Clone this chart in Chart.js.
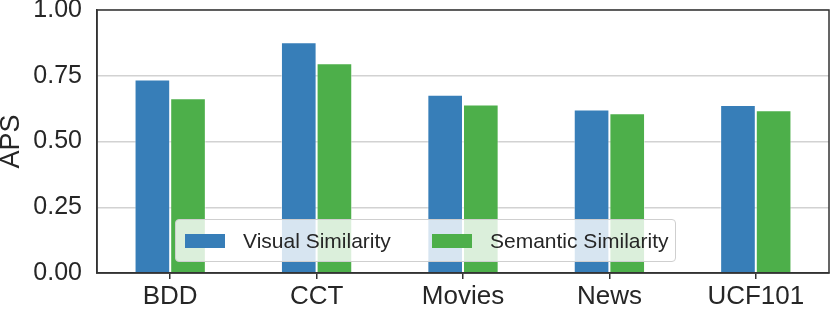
<!DOCTYPE html>
<html>
<head>
<meta charset="utf-8">
<script src="https://cdn.jsdelivr.net/npm/chart.js@4.4.1/dist/chart.umd.min.js"></script>
<style>
  html, body { margin: 0; padding: 0; background: #fff; }
  #wrap { position: relative; width: 830px; height: 311px; }
  #legend {
    position: absolute; left: 175px; top: 219px; width: 499px; height: 41px;
    background: rgba(255,255,255,0.8); border: 1.5px solid #cfcfcf; border-radius: 4px;
    font-family: "Liberation Sans", Arial, sans-serif; font-size: 21px; color: #262626;
  }
  .item { position: absolute; top: 0; height: 41px; display: flex; align-items: center; }
  .swatch { width: 40px; height: 14px; margin-right: 18px; }
</style>
</head>
<body>
<div id="wrap">
  <canvas id="apsChart" width="830" height="311"></canvas>
  <div id="legend"></div>
</div>
<script>
// Chart data
const categories = ["BDD", "CCT", "Movies", "News", "UCF101"];
const visualSimilarity = [0.736, 0.877, 0.678, 0.622, 0.639];
const semanticSimilarity = [0.664, 0.798, 0.641, 0.607, 0.619];
const seriesNames = ["Visual Similarity", "Semantic Similarity"];
const seriesColors = ["#377eb8", "#4daf4a"];
const yTicks = [0, 0.25, 0.5, 0.75, 1.0];

const axisColor = "#333333";
const textColor = "#262626";
const fontFamily = "'Liberation Sans', Arial, sans-serif";

// Frame round the plot area (top and right spines)
const framePlugin = {
    id: "frame",
    afterDraw(chart) {
        const { ctx, chartArea } = chart;
        ctx.save();
        ctx.strokeStyle = axisColor;
        ctx.lineWidth = 1.5;
        ctx.strokeRect(chartArea.left, chartArea.top, chartArea.right - chartArea.left, chartArea.bottom - chartArea.top);
        ctx.restore();
    }
};

const ctx = document.getElementById("apsChart").getContext("2d");
new Chart(ctx, {
    type: "bar",
    data: {
        labels: categories,
        datasets: [
            { label: seriesNames[0], data: visualSimilarity, backgroundColor: seriesColors[0] },
            { label: seriesNames[1], data: semanticSimilarity, backgroundColor: seriesColors[1] }
        ]
    },
    options: {
        responsive: false,
        animation: false,
        layout: { padding: { top: 10, right: 1, left: 0, bottom: 0 } },
        datasets: {
            bar: {
                categoryPercentage: 0.487,
                barPercentage: 1,
                borderWidth: 1,
                borderColor: "rgba(255,255,255,0.5)"
            }
        },
        plugins: {
            legend: { display: false },
            tooltip: { enabled: false }
        },
        scales: {
            x: {
                offset: true,
                grid: {
                    offset: false,
                    drawOnChartArea: false,
                    drawTicks: true,
                    tickLength: 6,
                    color: axisColor,
                    lineWidth: 1.5
                },
                border: { color: axisColor, width: 1.5 },
                ticks: {
                    color: textColor,
                    padding: 2,
                    font: { family: fontFamily, size: 26 }
                },
                afterFit(scale) { scale.height = 38; scale.paddingRight = 0; scale.paddingLeft = 0; }
            },
            y: {
                min: 0,
                max: 1,
                afterBuildTicks(scale) { scale.ticks = yTicks.map(v => ({ value: v })); },
                grid: { color: "#d2d2d2", lineWidth: 1.5, drawTicks: false },
                border: { color: axisColor, width: 1.5 },
                ticks: {
                    color: textColor,
                    padding: 15,
                    font: { family: fontFamily, size: 25 },
                    callback: v => Number(v).toFixed(2)
                },
                title: {
                    display: true,
                    text: "APS",
                    color: textColor,
                    padding: { top: -2, bottom: 0 },
                    font: { family: fontFamily, size: 27, lineHeight: 1 }
                },
                afterFit(scale) { scale.width = 97; scale.paddingTop = 0; scale.paddingBottom = 0; }
            }
        }
    },
    plugins: [framePlugin]
});

// Legend inside the plot, over the bars
const legend = document.getElementById("legend");
const itemLeft = [9, 256];
seriesNames.forEach((name, i) => {
    const item = document.createElement("div");
    item.className = "item";
    item.style.left = itemLeft[i] + "px";
    item.innerHTML = `<span class="swatch" style="background:${seriesColors[i]}"></span><span>${name}</span>`;
    legend.appendChild(item);
});
</script>
</body>
</html>
